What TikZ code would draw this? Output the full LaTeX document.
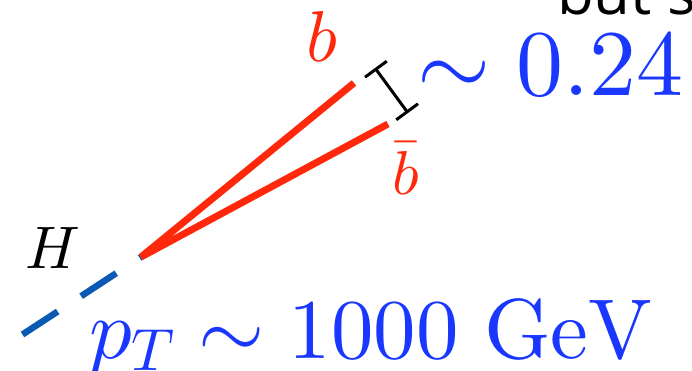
\documentclass[tikz,border=0pt]{standalone}
\usepackage[no-math]{fontspec}
\newfontfamily\butfont{Open Sans}
\DeclareFontFamily{OT1}{cmr}{\hyphenchar\font45 }
\DeclareFontShape{OT1}{cmr}{m}{n}{<-> cmr10}{}
\DeclareFontFamily{OML}{cmm}{\skewchar\font127 }
\DeclareFontShape{OML}{cmm}{m}{it}{<-> cmmi10}{}
\DeclareFontFamily{OMS}{cmsy}{\skewchar\font48 }
\DeclareFontShape{OMS}{cmsy}{m}{n}{<-> cmsy10}{}
\usetikzlibrary{arrows.meta}
\definecolor{txtblue}{RGB}{25,55,255}
\definecolor{lineblue}{RGB}{10,90,180}
\definecolor{jetred}{RGB}{255,40,10}
\tikzset{
  jet/.style={draw=jetred, line width=7pt},
  higgs/.style={draw=lineblue, line width=6.5pt, dash pattern=on 42pt off 28pt},
  sep/.style={draw=black, line width=3pt, {Bar[width=27pt]}-{Bar[width=27pt]}},
  lbl/.style={inner sep=0pt, outer sep=0pt}
}
\begin{document}
\begin{tikzpicture}[x=1pt, y=-1pt]
  \useasboundingbox (0,0) rectangle (692,371);
  % points
  \coordinate (hstart) at (22.5,334.5);
  \coordinate (vtx) at (141,257);
  \coordinate (hend) at (154,248.5);
  \coordinate (bend) at (354,83);
  \coordinate (bbarend) at (388,124);
  \coordinate (sepA) at (375,68);
  \coordinate (sepB) at (408,113);
  % lines
  \draw[higgs] (hstart) -- (hend);
  \draw[jet] (bend) -- (vtx) -- (bbarend);
  \draw[sep] (sepA) -- (sepB);
  % labels
  \node[lbl, anchor=base, text=jetred, font=\fontsize{72}{80}\selectfont] (blbl) at (322,62) {$b$};
  \node[lbl, anchor=base, text=jetred, font=\fontsize{62}{70}\selectfont] (bbarlbl) at (406,194) {$\bar b$};
  \node[lbl, anchor=base, text=black, font=\fontsize{60}{70}\selectfont] (hlbl) at (53,268) {$H$};
  \node[lbl, anchor=base west, text=txtblue, font=\fontsize{85}{95}\selectfont] (ptlbl) at (89,358) {$p_T\sim 1000\ \mathrm{GeV}$};
  \node[lbl, anchor=base west, text=txtblue, font=\fontsize{94}{100}\selectfont] (anglbl) at (417,96) {$\sim 0.24$};
  \node[lbl, anchor=base west, text=black, font=\butfont\fontsize{60}{70}\selectfont] (butlbl) at (557,15) {but s};
\end{tikzpicture}
\end{document}
